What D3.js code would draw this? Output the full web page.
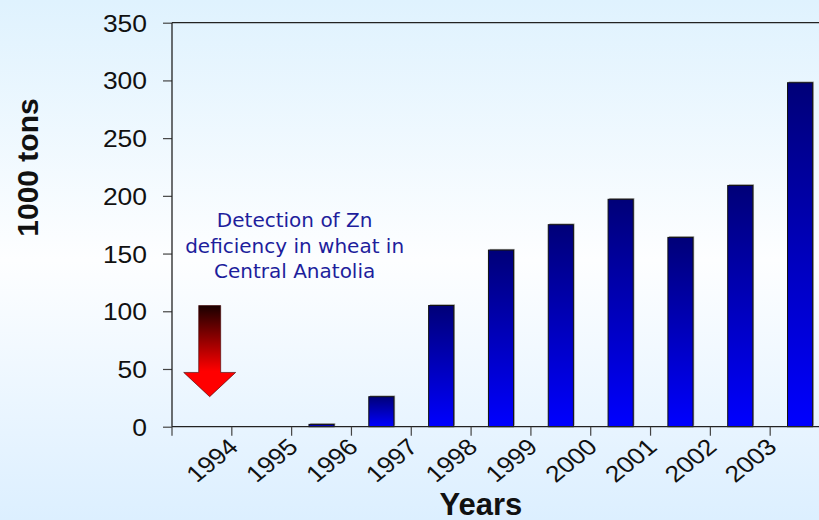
<!DOCTYPE html>
<html>
<head>
<meta charset="utf-8">
<script src="https://cdn.jsdelivr.net/npm/d3@7"></script>
<style>
	body { margin: 0; }
	svg { display: block; }
</style>
</head>
<body>
<svg id="chart"></svg>
<script>
/* jshint esversion: 6 */

// Data
const years = ["1994", "1995", "1996", "1997", "1998", "1999", "2000", "2001", "2002", "2003"];
const tons = [0, 2, 26, 105, 153, 175, 197, 164, 209, 298];
const yTicks = [0, 50, 100, 150, 200, 250, 300, 350];
const arrowValues = {top: 105, headBase: 47, tip: 26};
const noteLines = ["Detection of Zn", "deficiency in wheat in", "Central Anatolia"];

(function(){
	const width = 819;
	const height = 520;
	const plot = {left: 172, top: 22.7, right: 830, bottom: 426.7};

	const svg = d3.select("#chart")
			.attr("width", width)
			.attr("height", height);

	///////////////////////////////////////////////////////////////////
	// Gradients
	const defs = svg.append("defs");

	const bg = defs.append("linearGradient")
			.attr("id", "bg")
			.attr("x1", 0).attr("y1", 0).attr("x2", 0).attr("y2", 1);
	bg.append("stop").attr("offset", 0).attr("stop-color", "#dff2fe");
	bg.append("stop").attr("offset", 0.5).attr("stop-color", "#fdfeff");
	bg.append("stop").attr("offset", 1).attr("stop-color", "#dcefff");

	const barGrad = defs.append("linearGradient")
			.attr("id", "bar-grad")
			.attr("x1", 0).attr("y1", 0).attr("x2", 0).attr("y2", 1);
	barGrad.append("stop").attr("offset", 0).attr("stop-color", "#000078");
	barGrad.append("stop").attr("offset", 1).attr("stop-color", "#0000ff");

	const arrowGrad = defs.append("linearGradient")
			.attr("id", "arrow-grad")
			.attr("x1", 0).attr("y1", 0).attr("x2", 0).attr("y2", 1);
	arrowGrad.append("stop").attr("offset", 0).attr("stop-color", "#1a0000");
	arrowGrad.append("stop").attr("offset", 0.72).attr("stop-color", "#ff0000");
	arrowGrad.append("stop").attr("offset", 1).attr("stop-color", "#ff0000");

	svg.append("rect")
			.attr("width", width)
			.attr("height", height)
			.style("fill", "url(#bg)");

	///////////////////////////////////////////////////////////////////
	// Scales
	const slots = ["start"].concat(years);

	const x = d3.scaleBand()
			.domain(slots)
			.range([plot.left, plot.right])
			.padding(0);

	const y = d3.scaleLinear()
			.domain([0, 350])
			.range([plot.bottom, plot.top]);

	const bw = x.bandwidth();
	const barW = bw * 0.42;

	///////////////////////////////////////////////////////////////////
	// Plot frame (top border)
	svg.append("line")
			.attr("x1", plot.left).attr("x2", plot.right)
			.attr("y1", plot.top).attr("y2", plot.top)
			.style("stroke", "#222")
			.style("stroke-width", 1.3);

	///////////////////////////////////////////////////////////////////
	// Bars
	const barData = years.map((d, i) => ({year: d, value: tons[i]})).filter(d => d.value > 0);
	const bars = svg.append("g").attr("class", "bars");

	bars.selectAll(".shadow")
		.data(barData)
		.enter().append("rect")
			.attr("class", "shadow")
			.attr("x", d => x(d.year) + (bw - barW) / 2 + 1.2)
			.attr("y", d => y(d.value) - 1.2)
			.attr("width", barW)
			.attr("height", d => y(0) - y(d.value))
			.style("fill", "#9a9a9a");

	bars.selectAll(".bar")
		.data(barData)
		.enter().append("rect")
			.attr("class", "bar")
			.attr("x", d => x(d.year) + (bw - barW) / 2)
			.attr("y", d => y(d.value))
			.attr("width", barW)
			.attr("height", d => y(0) - y(d.value))
			.style("fill", "url(#bar-grad)")
			.style("stroke", "#111")
			.style("stroke-width", 1);

	///////////////////////////////////////////////////////////////////
	// Axes
	const labelFont = "'Liberation Sans', Arial, sans-serif";

	const yAxis = svg.append("g")
			.attr("transform", `translate(${plot.left},0)`)
			.call(d3.axisLeft(y).tickValues(yTicks).tickSize(9).tickPadding(0).tickFormat(d3.format("d")));
	yAxis.select(".domain").remove();
	yAxis.selectAll(".tick line").style("stroke", "#444").style("stroke-width", 1.2);
	yAxis.selectAll(".tick text")
			.attr("x", null).attr("dy", null)
			.attr("transform", "translate(-25,8.5) scale(1.15,1)")
			.style("font-family", labelFont)
			.style("font-size", "23px")
			.style("fill", "#111");

	svg.append("line")
			.attr("x1", plot.left).attr("x2", plot.left)
			.attr("y1", plot.top).attr("y2", plot.bottom)
			.style("stroke", "#222")
			.style("stroke-width", 1.3);

	const bounds = slots.map(d => x(d));
	const xAxis = svg.append("g").attr("class", "x-axis");
	xAxis.append("line")
			.attr("x1", plot.left).attr("x2", plot.right)
			.attr("y1", y(0)).attr("y2", y(0))
			.style("stroke", "#222")
			.style("stroke-width", 1.3);
	xAxis.selectAll(".tick")
		.data(bounds)
		.enter().append("line")
			.attr("class", "tick")
			.attr("x1", d => d).attr("x2", d => d)
			.attr("y1", y(0)).attr("y2", y(0) + 9)
			.style("stroke", "#444")
			.style("stroke-width", 1.2);
	xAxis.selectAll(".label")
		.data(years)
		.enter().append("text")
			.attr("class", "label")
			.attr("transform", d => `translate(${x(d) + 8},${y(0) + 22}) scale(1.15,1) rotate(-43)`)
			.attr("text-anchor", "end")
			.style("font-family", labelFont)
			.style("font-size", "23px")
			.style("fill", "#111")
			.text(d => d);

	///////////////////////////////////////////////////////////////////
	// Axis titles
	svg.append("text")
			.attr("transform", "translate(38,167.5) rotate(-90)")
			.attr("text-anchor", "middle")
			.style("font-family", labelFont)
			.style("font-size", "30px")
			.style("font-weight", "bold")
			.style("fill", "#111")
			.text("1000 tons");

	svg.append("text")
			.attr("x", 481)
			.attr("y", 515)
			.attr("text-anchor", "middle")
			.style("font-family", labelFont)
			.style("font-size", "31px")
			.style("font-weight", "bold")
			.style("fill", "#111")
			.text("Years");

	///////////////////////////////////////////////////////////////////
	// Arrow annotation
	const cx = x("start") + bw * 0.63;
	const shaftHalf = 11;
	const headHalf = 26;
	const arrowPts = [
		[cx - shaftHalf, y(arrowValues.top)],
		[cx + shaftHalf, y(arrowValues.top)],
		[cx + shaftHalf, y(arrowValues.headBase)],
		[cx + headHalf, y(arrowValues.headBase)],
		[cx, y(arrowValues.tip)],
		[cx - headHalf, y(arrowValues.headBase)],
		[cx - shaftHalf, y(arrowValues.headBase)]
	];
	svg.append("path")
			.attr("d", d3.line()(arrowPts) + "Z")
			.style("fill", "url(#arrow-grad)")
			.style("stroke", "#400000")
			.style("stroke-width", 0.6);

	svg.append("text")
			.attr("text-anchor", "middle")
			.style("font-family", "'DejaVu Sans', Verdana, sans-serif")
			.style("font-size", "20px")
			.style("fill", "#1e1e9c")
		.selectAll("tspan")
		.data(noteLines)
		.enter().append("tspan")
			.attr("x", x(years[1]) + 3)
			.attr("y", (d, i) => y(173) + i * 25.5)
			.text(d => d);
}());
</script>
</body>
</html>
